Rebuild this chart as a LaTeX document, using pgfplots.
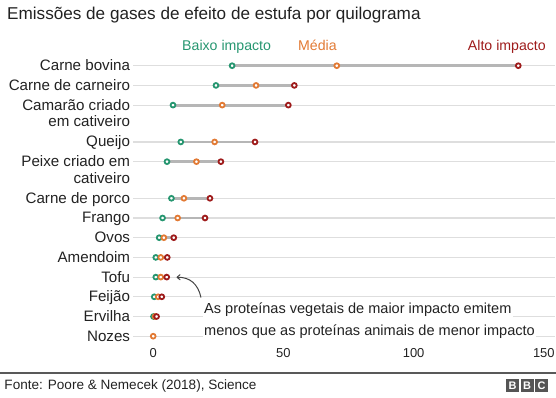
\documentclass[border=0pt]{standalone}
\usepackage{fontspec}
\setmainfont{Liberation Sans}
\usepackage{pgfplots}
\pgfplotsset{compat=1.18}
\usetikzlibrary{arrows.meta}
\definecolor{lowc}{RGB}{38,150,112}
\definecolor{midc}{RGB}{226,122,52}
\definecolor{highc}{RGB}{158,27,27}
\definecolor{barc}{RGB}{182,182,182}
\definecolor{gridc}{RGB}{222,222,222}
\definecolor{txt}{RGB}{34,34,34}
\definecolor{bbcgray}{RGB}{85,85,85}
\begin{document}
\begin{tikzpicture}
\path[use as bounding box] (0,0) rectangle (556bp,-398bp);
\begin{axis}[
  at={(133.2bp,-55.85bp)}, anchor=north west,
  scale only axis, width=421.8bp, height=290.2bp,
  xmin=-7.68, xmax=154.3, ymin=-0.5, ymax=14.23, y dir=reverse,
  axis line style={draw=none}, major tick length=0pt,
  xtick={0,50,100,150},
  ytick={0,1,2,3.87,4.87,6.73,7.73,8.73,9.73,10.73,11.73,12.73,13.73},
  yticklabels={Carne bovina,Carne de carneiro,Camarão criado,Queijo,Peixe criado em,Carne de porco,Frango,Ovos,Amendoim,Tofu,Feijão,Ervilha,Nozes},
  extra y ticks={2.85,5.72},
  extra y tick labels={em cativeiro,cativeiro},
  extra y tick style={grid=none},
  ymajorgrids, major grid style={draw=gridc, line width=1.2bp},
  yticklabel style={font=\fontsize{15.2}{18}\selectfont, anchor=base east, inner sep=0pt, xshift=-3bp, yshift=-5bp, text=txt},
  xticklabel style={font=\fontsize{13}{15}\selectfont, anchor=base, inner sep=0pt, yshift=-11.6bp, text=txt},
  /pgf/number format/assume math mode=true,
  clip=false,
]
% connecting bars (low to high)
\addplot[barc, line width=2.8bp, forget plot] coordinates {(30.3,0) (140.2,0)};
\addplot[barc, line width=2.8bp, forget plot] coordinates {(24.1,1) (54.2,1)};
\addplot[barc, line width=2.8bp, forget plot] coordinates {(7.6,2) (51.9,2)};
\addplot[barc, line width=2.8bp, forget plot] coordinates {(10.6,3.87) (39.1,3.87)};
\addplot[barc, line width=2.8bp, forget plot] coordinates {(5.3,4.87) (26.0,4.87)};
\addplot[barc, line width=2.8bp, forget plot] coordinates {(7.0,6.73) (21.8,6.73)};
\addplot[barc, line width=2.8bp, forget plot] coordinates {(3.6,7.73) (19.9,7.73)};
\addplot[barc, line width=2.8bp, forget plot] coordinates {(2.3,8.73) (7.9,8.73)};
\addplot[barc, line width=2.8bp, forget plot] coordinates {(1.0,9.73) (5.4,9.73)};
\addplot[barc, line width=2.8bp, forget plot] coordinates {(1.0,10.73) (5.2,10.73)};
\addplot[barc, line width=2.8bp, forget plot] coordinates {(0.4,11.73) (3.3,11.73)};
\addplot[barc, line width=2.8bp, forget plot] coordinates {(0.1,12.73) (1.3,12.73)};
% low impact
\addplot[only marks, mark=*, mark size=2.4bp, mark options={draw=lowc, fill=white, line width=1.8bp}] coordinates {
(30.3,0) (24.1,1) (7.6,2) (10.6,3.87) (5.3,4.87) (7.0,6.73) (3.6,7.73) (2.3,8.73) (1.0,9.73) (1.0,10.73) (0.4,11.73) (0.1,12.73)};
% average
\addplot[only marks, mark=*, mark size=2.4bp, mark options={draw=midc, fill=white, line width=1.8bp}] coordinates {
(70.5,0) (39.5,1) (26.5,2) (23.6,3.87) (16.6,4.87) (11.8,6.73) (9.4,7.73) (4.1,8.73) (2.9,9.73) (2.9,10.73) (1.9,11.73) (0.7,12.73) (0.0,13.73)};
% high impact
\addplot[only marks, mark=*, mark size=2.4bp, mark options={draw=highc, fill=white, line width=1.8bp}] coordinates {
(140.2,0) (54.2,1) (51.9,2) (39.1,3.87) (26.0,4.87) (21.8,6.73) (19.9,7.73) (7.9,8.73) (5.4,9.73) (5.2,10.73) (3.3,11.73) (1.3,12.73)};
\end{axis}
\begin{scope}[x=1bp,y=-1bp]
\node[anchor=base west, inner sep=0pt, text=txt, font=\fontsize{17.2}{20}\selectfont] at (7,19.5) {Emissões de gases de efeito de estufa por quilograma};
\node[anchor=base west, inner sep=0pt, text=lowc, font=\fontsize{14.2}{17}\selectfont] at (182,50) {Baixo impacto};
\node[anchor=base west, inner sep=0pt, text=midc, font=\fontsize{14.2}{17}\selectfont] at (298,50) {Média};
\node[anchor=base east, inner sep=0pt, text=highc, font=\fontsize{14.2}{17}\selectfont] at (546,50) {Alto impacto};
\draw[txt!85, line width=1bp, -{To[length=4bp,width=6bp]}] (201,297.5) .. controls (198,284) and (190,277) .. (176.5,277.3);
\node[anchor=base west, inner sep=1.2bp, fill=white, text=txt, font=\fontsize{14.6}{17}\selectfont] at (202.8,313.7) {As proteínas vegetais de maior impacto emitem};
\node[anchor=base west, inner sep=1.2bp, fill=white, text=txt, font=\fontsize{14.6}{17}\selectfont] at (202.8,335) {menos que as proteínas animais de menor impacto};
\draw[black!65, line width=1.1bp] (0,373) -- (556,373);
\node[anchor=base west, inner sep=0pt, text=txt, font=\fontsize{13.6}{16}\selectfont] at (4.3,389) {Fonte: Poore \& Nemecek (2018), Science};
\foreach \i/\l in {0/B,1/B,2/C} {
  \node[anchor=north west, fill=bbcgray, text=white, minimum width=13bp, minimum height=12.5bp, inner sep=0pt, font=\bfseries\fontsize{11}{11}\selectfont] at (506+\i*14.5,379) {\l};
}
\end{scope}
\end{tikzpicture}
\end{document}
